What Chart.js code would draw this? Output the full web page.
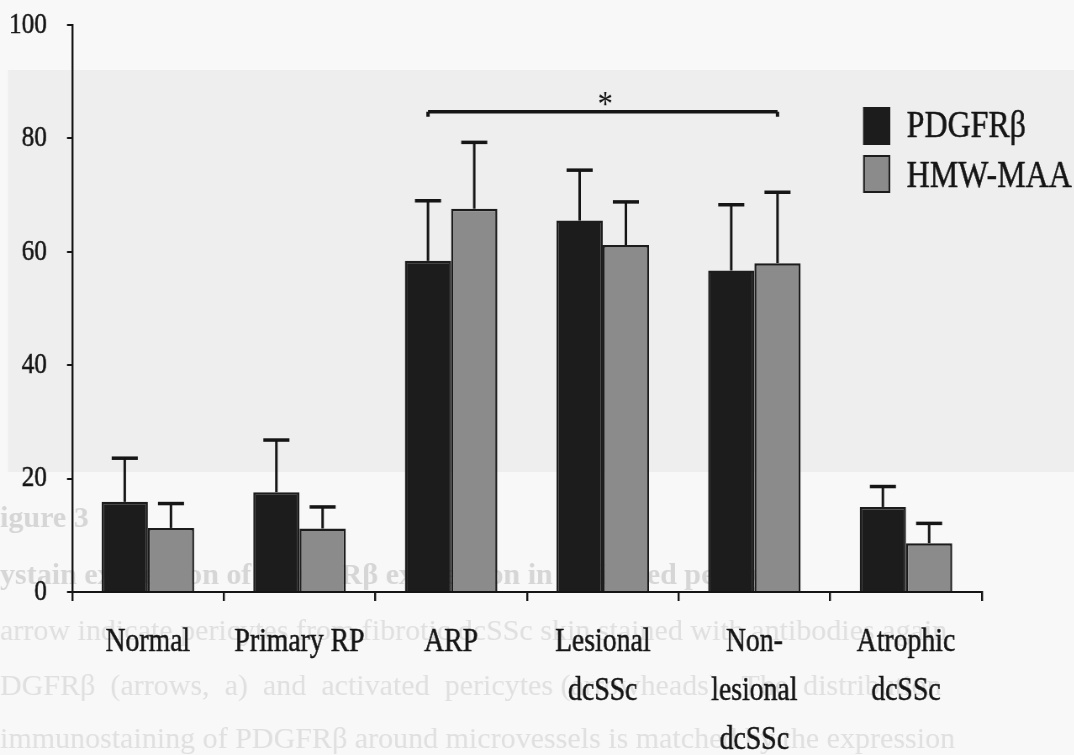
<!DOCTYPE html>
<html>
<head>
<meta charset="utf-8">
<script src="https://cdn.jsdelivr.net/npm/chart.js@4.4.1/dist/chart.umd.min.js"></script>
<style>
  html, body { margin: 0; padding: 0; overflow: hidden; width: 1074px; height: 755px; background: #f8f8f8; }
  #wrap { width: 1278.57px; height: 755px; transform: scaleX(0.84); transform-origin: 0 0; }
</style>
</head>
<body>
<div id="wrap"><canvas id="chart"></canvas></div>
<script>
// the original figure uses a narrow serif, so the whole canvas is squeezed horizontally
const SX = 0.84;

const categories = [
  ['Normal'],
  ['Primary RP'],
  ['ARP'],
  ['Lesional', 'dcSSc'],
  ['Non-', 'lesional', 'dcSSc'],
  ['Atrophic', 'dcSSc']
];
const seriesNames = ['PDGFRβ', 'HMW-MAA'];
const pdgfrMean = [15.9, 17.6, 58.4, 65.5, 56.7, 15.0];
const pdgfrError = [7.7, 9.2, 10.6, 8.9, 11.6, 3.6];
const hmwMean = [11.3, 11.2, 67.6, 61.2, 58.0, 8.6];
const hmwError = [4.3, 3.8, 11.7, 7.6, 12.5, 3.5];
const yTicks = [0, 20, 40, 60, 80, 100];
// significance bracket: from ARP (PDGFRβ) to Non-lesional dcSSc (HMW-MAA)
const bracketFrom = [2, 0];
const bracketTo = [4, 1];
const bracketValue = 84.7;
const bracketLabel = '*';

const INK = '#151515';
const DARK = '#1c1c1c';
const GREY = '#8b8b8b';
const SERIF = '"Liberation Serif", "Times New Roman", serif';

const ghostLines = [
  { text: 'igure 3', y: 527, bold: true },
  { text: 'ystain expression of PDGFRβ expression in activated pericytes', y: 584, bold: true },
  { text: 'arrow indicate pericytes from fibrotic dcSSc skin stained with antibodies again', y: 640, bold: false },
  { text: 'DGFRβ  (arrows,  a)  and  activated  pericytes (arrowheads).  The  distribution', y: 695, bold: false },
  { text: 'immunostaining of PDGFRβ around microvessels is matched by the expression', y: 748, bold: false }
];

const paper = {
  id: 'paper',
  beforeDraw(chart) {
    const { ctx, width, height } = chart;
    ctx.save();
    ctx.fillStyle = '#f8f8f8';
    ctx.fillRect(0, 0, width, height);
    ctx.fillStyle = '#eeeeee';
    ctx.fillRect(8 / SX, 70, width, 402);
    // show-through text from the other side of the scanned page
    ctx.scale(1 / SX, 1);
    ctx.textBaseline = 'alphabetic';
    ghostLines.forEach(l => {
      ctx.fillStyle = l.bold ? '#d6d6d6' : '#e0e0e0';
      ctx.font = (l.bold ? 'bold ' : '') + '30px ' + SERIF;
      ctx.fillText(l.text, 0, l.y);
    });
    ctx.restore();
  }
};

const errorBars = {
  id: 'errorBars',
  afterDatasetsDraw(chart) {
    const { ctx } = chart;
    const y = chart.scales.y;
    ctx.save();
    ctx.strokeStyle = INK;
    ctx.lineCap = 'butt';
    chart.data.datasets.forEach((ds, i) => {
      chart.getDatasetMeta(i).data.forEach((bar, j) => {
        const top = y.getPixelForValue(ds.data[j] + ds.errors[j]);
        ctx.lineWidth = 3;
        ctx.beginPath();
        ctx.moveTo(bar.x, bar.y);
        ctx.lineTo(bar.x, top);
        ctx.stroke();
        ctx.lineWidth = 3.5;
        ctx.beginPath();
        ctx.moveTo(bar.x - 15.5, top);
        ctx.lineTo(bar.x + 15.5, top);
        ctx.stroke();
      });
    });
    ctx.restore();
  }
};

const bracket = {
  id: 'bracket',
  afterDatasetsDraw(chart) {
    const { ctx } = chart;
    const y = chart.scales.y;
    const x1 = chart.getDatasetMeta(bracketFrom[1]).data[bracketFrom[0]].x;
    const x2 = chart.getDatasetMeta(bracketTo[1]).data[bracketTo[0]].x;
    const yy = y.getPixelForValue(bracketValue);
    ctx.save();
    ctx.strokeStyle = INK;
    ctx.lineWidth = 3.5;
    ctx.beginPath();
    ctx.moveTo(x1, yy);
    ctx.lineTo(x2, yy);
    ctx.stroke();
    ctx.lineWidth = 4;
    ctx.beginPath();
    ctx.moveTo(x1, yy);
    ctx.lineTo(x1, yy + 5);
    ctx.moveTo(x2, yy);
    ctx.lineTo(x2, yy + 5);
    ctx.stroke();
    ctx.fillStyle = INK;
    ctx.font = '36px ' + SERIF;
    ctx.textAlign = 'center';
    ctx.textBaseline = 'alphabetic';
    ctx.fillText(bracketLabel, (x1 + x2) / 2 + 3, yy + 4);
    ctx.restore();
  }
};

const sideLegend = {
  id: 'sideLegend',
  afterDraw(chart) {
    const { ctx } = chart;
    const colors = [DARK, GREY];
    const boxX = 862.5 / SX, boxW = 27 / SX;
    const boxY = [107, 155], boxH = 38;
    const textY = [137, 187];
    ctx.save();
    seriesNames.forEach((name, i) => {
      ctx.fillStyle = colors[i];
      ctx.fillRect(boxX, boxY[i], boxW, boxH);
      ctx.strokeStyle = DARK;
      ctx.lineWidth = 2;
      ctx.strokeRect(boxX + 1, boxY[i] + 1, boxW - 2, boxH - 2);
      ctx.fillStyle = INK;
      ctx.strokeStyle = INK;
      ctx.lineWidth = 0.5;
      ctx.font = '38px ' + SERIF;
      ctx.textAlign = 'left';
      ctx.textBaseline = 'alphabetic';
      ctx.fillText(name, 906 / SX, textY[i]);
      ctx.strokeText(name, 906 / SX, textY[i]);
    });
    ctx.restore();
  }
};

new Chart(document.getElementById('chart'), {
  type: 'bar',
  data: {
    labels: categories,
    datasets: [
      { label: seriesNames[0], data: pdgfrMean, errors: pdgfrError,
        backgroundColor: DARK, borderColor: DARK, borderWidth: 2.5 },
      { label: seriesNames[1], data: hmwMean, errors: hmwError,
        backgroundColor: GREY, borderColor: DARK, borderWidth: 2.5 }
    ]
  },
  options: {
    responsive: true,
    maintainAspectRatio: false,
    animation: false,
    layout: { padding: { top: 25, right: 110.7, left: 0, bottom: 0 } },
    datasets: { bar: { categoryPercentage: 0.61, barPercentage: 1.0, borderSkipped: 'bottom' } },
    plugins: { legend: { display: false }, tooltip: { enabled: false } },
    scales: {
      x: {
        offset: true,
        grid: { display: true, offset: true, drawOnChartArea: false, drawTicks: true,
                tickLength: 9, color: INK, lineWidth: 2.4 },
        border: { display: true, color: INK, width: 2 },
        ticks: { color: INK, font: { family: SERIF, size: 33, lineHeight: 1.48 },
                 textStrokeColor: INK, textStrokeWidth: 0.5,
                 padding: 17, maxRotation: 0, minRotation: 0, autoSkip: false },
        afterFit(scale) { scale.height = 163; }
      },
      y: {
        min: 0,
        max: 100,
        afterBuildTicks(scale) { scale.ticks = yTicks.map(v => ({ value: v })); },
        grid: { display: true, drawOnChartArea: false, drawTicks: true,
                tickLength: 6, color: INK, lineWidth: 2 },
        border: { display: true, color: INK, width: 2.4 },
        ticks: { color: INK, font: { family: SERIF, size: 30 },
                 textStrokeColor: INK, textStrokeWidth: 0.5, padding: 24 },
        afterFit(scale) {
          scale.width = 85.7;
          scale.paddingTop = 0;
          scale.paddingBottom = 0;
        }
      }
    }
  },
  plugins: [paper, errorBars, bracket, sideLegend]
});
</script>
</body>
</html>
